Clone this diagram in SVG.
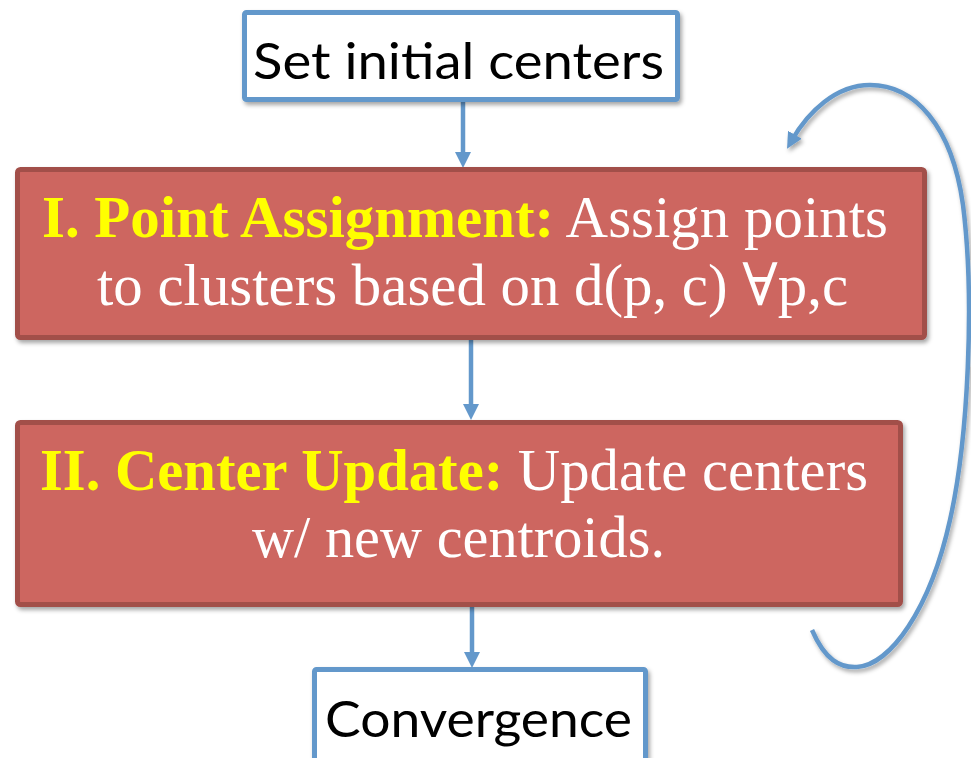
<svg xmlns="http://www.w3.org/2000/svg" width="971" height="758" viewBox="0 0 971 758">
  <defs>
    <filter id="shadow" x="-5%" y="-10%" width="112%" height="125%">
      <feDropShadow dx="2" dy="3" stdDeviation="2" flood-color="#000" flood-opacity="0.35"/>
    </filter>
    <marker id="head" viewBox="0 0 16 16" refX="6" refY="8" markerWidth="16" markerHeight="16" markerUnits="userSpaceOnUse" orient="auto">
      <path d="M0,0 L16,8 L0,16 z" fill="#6398cb"/>
    </marker>
    <style>
      .plain { fill: #ffffff; stroke: #6398cb; stroke-width: 5; }
      .step { fill: #cd6660; stroke: #a24f4a; stroke-width: 5; }
      .conn { fill: none; stroke: #6398cb; stroke-width: 4.5; marker-end: url(#head); }
      .sans { font-family: Lato, "Open Sans", "Liberation Sans", sans-serif; font-size: 51px; fill: #000; }
      .serif { font-family: "Liberation Serif", "DejaVu Serif", serif; font-size: 59px; fill: #ffffff; }
      .lead { font-weight: bold; fill: #ffff00; }
    </style>
  </defs>

  <!-- connectors -->
  <g id="connectors">
    <line class="conn" x1="463" y1="102" x2="463" y2="158"/>
    <line class="conn" x1="471" y1="340" x2="471" y2="410"/>
    <line class="conn" x1="472" y1="607" x2="472" y2="658"/>
    <path class="conn" filter="url(#shadow)" d="M812,630 C825,660 840,668 857,667 C890,665 930,610 950,520 C968,440 975,300 963,205 C952,125 914,85 870,85 C836,85 808,112 792,140"/>
  </g>

  <g id="start" filter="url(#shadow)">
    <rect class="plain" x="244.5" y="12.5" width="433" height="87" rx="2"/>
    <text class="sans" x="458.5" y="79" text-anchor="middle" textLength="411" lengthAdjust="spacingAndGlyphs">Set initial centers</text>
  </g>

  <g id="assign">
    <rect class="step" filter="url(#shadow)" x="17.5" y="169.5" width="907" height="168" rx="3"/>
    <text class="serif" x="42" y="237" textLength="846" lengthAdjust="spacingAndGlyphs"><tspan class="lead">I. Point Assignment:</tspan> Assign points</text>
    <text class="serif" x="97" y="305" textLength="751" lengthAdjust="spacingAndGlyphs">to clusters based on d(p, c) ∀p,c</text>
  </g>

  <g id="update">
    <rect class="step" filter="url(#shadow)" x="17.5" y="422.5" width="883" height="182" rx="3"/>
    <text class="serif" x="40" y="490" textLength="828" lengthAdjust="spacingAndGlyphs"><tspan class="lead">II. Center Update:</tspan> Update centers</text>
    <text class="serif" x="252" y="557" textLength="413" lengthAdjust="spacingAndGlyphs">w/ new centroids.</text>
  </g>

  <g id="converge" filter="url(#shadow)">
    <rect class="plain" x="314.5" y="669.5" width="331" height="100" rx="2"/>
    <text class="sans" x="478.5" y="737" text-anchor="middle" textLength="307" lengthAdjust="spacingAndGlyphs">Convergence</text>
  </g>
</svg>
